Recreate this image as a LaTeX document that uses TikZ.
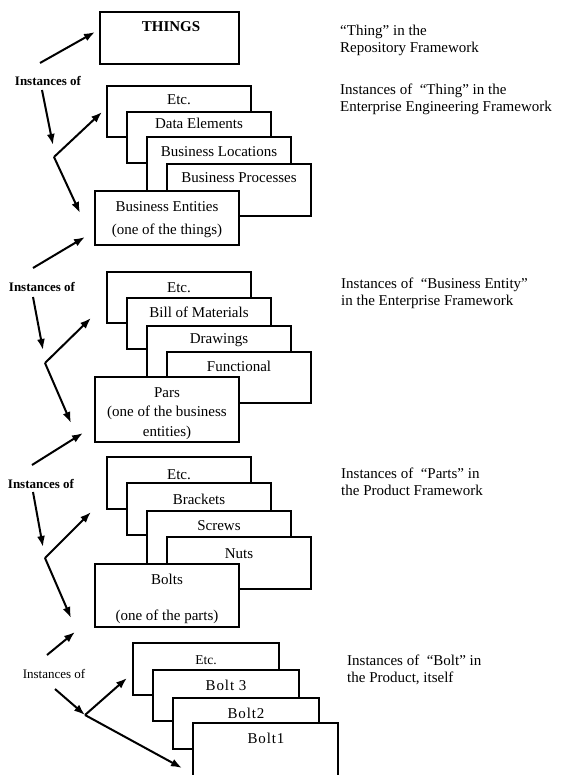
\documentclass[tikz,border=0pt]{standalone}
\usepackage{fontspec}
\setmainfont{Liberation Serif}
\usetikzlibrary{arrows.meta}
\tikzset{
  bx/.style={draw, fill=white, line width=2pt, outer sep=0pt, inner sep=0pt, anchor=north west},
  lbl/.style={font=\fontsize{15}{17}\selectfont, anchor=base, inner sep=0pt},
  sidetxt/.style={font=\fontsize{15}{17}\selectfont, anchor=base west, inner sep=0pt},
  inst/.style={font=\bfseries\fontsize{13}{15}\selectfont, anchor=base, inner sep=0pt},
  instr/.style={font=\fontsize{13}{15}\selectfont, anchor=base, inner sep=0pt},
  arr/.style={line width=2pt, -{Latex[length=11pt,width=8pt]}},
}
\newcommand\stackbox[5]{\node[bx, minimum width=#4pt-#2pt, minimum height=#5pt-#3pt] (#1) at (#2,#3) {};}
\begin{document}
\begin{tikzpicture}[x=1pt,y=-1pt]
\useasboundingbox (0,0) rectangle (561,775);
\clip (0,0) rectangle (561,775);

% ---------- group 1 ----------
\stackbox{things}{100}{12}{239}{64}
\node[lbl, font=\bfseries\fontsize{15}{17}\selectfont] (thingst) at (171,32) {THINGS};

\stackbox{ga1}{107}{86}{251}{137}
\node[lbl] (ga1t) at (179,105) {Etc.};
\stackbox{ga2}{127}{112}{271}{163}
\node[lbl] (ga2t) at (199,129) {Data Elements};
\stackbox{ga3}{147}{137}{291}{200}
\node[lbl] (ga3t) at (219,157) {Business Locations};
\stackbox{ga4}{167}{164}{311}{216}
\node[lbl] (ga4t) at (239,183) {Business Processes};
\stackbox{ga5}{95}{191}{239}{245}
\node[lbl] (ga5t) at (167,212) {Business Entities};
\node[lbl] (ga5u) at (167,235) {(one of the things)};

% ---------- group 2 ----------
\stackbox{gb1}{107}{272}{251}{323}
\node[lbl] (gb1t) at (179,292) {Etc.};
\stackbox{gb2}{127}{298}{271}{349}
\node[lbl] (gb2t) at (199,317) {Bill of Materials};
\stackbox{gb3}{147}{326}{291}{390}
\node[lbl] (gb3t) at (219,343) {Drawings};
\stackbox{gb4}{167}{352}{311}{403}
\node[lbl] (gb4t) at (239,371) {Functional};
\stackbox{gb5}{95}{377}{239}{442}
\node[lbl] (gb5t) at (167,397) {Pars};
\node[lbl] (gb5u) at (167,416) {(one of the business};
\node[lbl] (gb5v) at (167,436) {entities)};

% ---------- group 3 ----------
\stackbox{gc1}{107}{457}{251}{509}
\node[lbl] (gc1t) at (179,479) {Etc.};
\stackbox{gc2}{127}{483}{271}{535}
\node[lbl] (gc2t) at (199,504) {Brackets};
\stackbox{gc3}{147}{511}{291}{575}
\node[lbl] (gc3t) at (219,530) {Screws};
\stackbox{gc4}{167}{537}{311}{589}
\node[lbl] (gc4t) at (239,558) {Nuts};
\stackbox{gc5}{95}{564}{239}{627}
\node[lbl] (gc5t) at (167,584) {Bolts};
\node[lbl] (gc5u) at (167,620) {(one of the parts)};

% ---------- group 4 ----------
\stackbox{gd1}{133}{643}{279}{695}
\node[lbl, font=\fontsize{13.5}{15}\selectfont] (gd1t) at (206,664) {Etc.};
\stackbox{gd2}{153}{670}{299}{721}
\node[lbl, font=\fontsize{15}{17}\selectfont\addfontfeature{LetterSpace=6}] (gd2t) at (226,690) {Bolt 3};
\stackbox{gd3}{173}{698}{319}{749}
\node[lbl, font=\fontsize{15}{17}\selectfont\addfontfeature{LetterSpace=6}] (gd3t) at (246,718) {Bolt2};
\stackbox{gd4}{193}{723}{338}{800}
\node[lbl, font=\fontsize{15}{17}\selectfont\addfontfeature{LetterSpace=6}] (gd4t) at (266,743) {Bolt1};

% ---------- "Instances of" labels ----------
\node[inst] (i1) at (48,86) {Instances of};
\node[inst] (i2) at (42,291) {Instances of};
\node[inst] (i3) at (41,488) {Instances of};
\node[instr] (i4) at (54,678) {Instances of};

% ---------- arrow coordinates ----------
\coordinate (a1s) at (40,63);   \coordinate (a1e) at (95,32);
\coordinate (a2s) at (42,90);   \coordinate (a2e) at (53,145);
\coordinate (v1) at (54,157);   \coordinate (v1u) at (102,112); \coordinate (v1d) at (80,213);
\coordinate (a4s) at (33,268);  \coordinate (a4e) at (85,237);
\coordinate (a5s) at (33,297);  \coordinate (a5e) at (43,350);
\coordinate (v2) at (45,363);   \coordinate (v2u) at (91,318);  \coordinate (v2d) at (71,423);
\coordinate (a7s) at (32,465);  \coordinate (a7e) at (83,433);
\coordinate (a8s) at (33,492);  \coordinate (a8e) at (43,547);
\coordinate (v3) at (45,558);   \coordinate (v3u) at (91,512);  \coordinate (v3d) at (71,618);
\coordinate (a10s) at (47,655); \coordinate (a10e) at (75,632);
\coordinate (a11s) at (55,689);
\coordinate (v4) at (85,715);   \coordinate (v4u) at (127,678); \coordinate (v4d) at (182,768);

\draw[arr] (a1s) -- (a1e);
\draw[arr] (a2s) -- (a2e);
\draw[arr] (v1) -- (v1u);
\draw[arr] (v1) -- (v1d);
\draw[arr] (a4s) -- (a4e);
\draw[arr] (a5s) -- (a5e);
\draw[arr] (v2) -- (v2u);
\draw[arr] (v2) -- (v2d);
\draw[arr] (a7s) -- (a7e);
\draw[arr] (a8s) -- (a8e);
\draw[arr] (v3) -- (v3u);
\draw[arr] (v3) -- (v3d);
\draw[arr] (a10s) -- (a10e);
\draw[arr] (a11s) -- (v4);
\draw[arr] (v4) -- (v4u);
\draw[arr] (v4) -- (v4d);

% ---------- side texts ----------
\node[sidetxt] (s1a) at (340,36) {“Thing” in the};
\node[sidetxt] (s1b) at (340,53) {Repository Framework};
\node[sidetxt] (s2a) at (340,95) {Instances of~ “Thing” in the};
\node[sidetxt] (s2b) at (340,112) {Enterprise Engineering Framework};
\node[sidetxt] (s3a) at (341,288) {Instances of~ “Business Entity”};
\node[sidetxt] (s3b) at (341,305) {in the Enterprise Framework};
\node[sidetxt] (s4a) at (341,478) {Instances of~ “Parts” in};
\node[sidetxt] (s4b) at (341,495) {the Product Framework};
\node[sidetxt] (s5a) at (347,665) {Instances of~ “Bolt” in};
\node[sidetxt] (s5b) at (347,682) {the Product, itself};
\end{tikzpicture}
\end{document}
